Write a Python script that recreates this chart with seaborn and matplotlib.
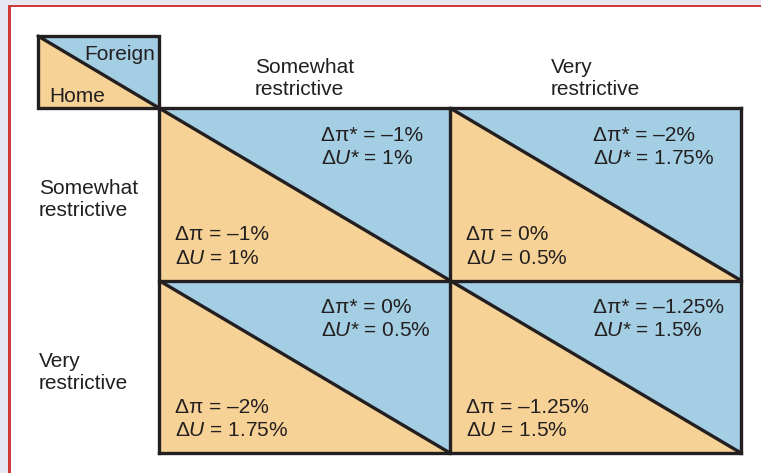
import numpy as np
import pandas as pd
import seaborn as sns
import matplotlib.pyplot as plt
from matplotlib.patches import Rectangle

# policy choices (rows = Home, columns = Foreign)
row_labels = ["Somewhat\nrestrictive", "Very\nrestrictive"]
col_labels = ["Somewhat\nrestrictive", "Very\nrestrictive"]

# outcomes for Home (lower-left triangle) and Foreign (upper-right triangle)
d_pi_home = [[-1, 0], [-2, -1.25]]
d_u_home = [[1, 0.5], [1.75, 1.5]]
d_pi_foreign = [[-1, -2], [0, -1.25]]
d_u_foreign = [[1, 1.75], [0.5, 1.5]]

BLUE = "#a3cee3"
ORANGE = "#f6d296"
INK = "#231f20"

sns.set_theme(style="white")
plt.rcParams["font.family"] = ["Liberation Sans", "DejaVu Sans"]
plt.rcParams["mathtext.fontset"] = "custom"
plt.rcParams["mathtext.rm"] = "Liberation Sans"
plt.rcParams["mathtext.it"] = "Liberation Sans:italic"

W, H = 761, 473
fig = plt.figure(figsize=(W / 100, H / 100), dpi=100)
fig.patch.set_facecolor("white")

# page frame: lavender margin and red rule
def px_rect(x0, y0, w, h, color):
    fig.patches.append(Rectangle((x0 / W, 1 - (y0 + h) / H), w / W, h / H,
                                 transform=fig.transFigure, color=color, lw=0, zorder=0))

px_rect(0, 0, W, 5, "#e8e8f2")
px_rect(0, 0, 8, H, "#e8e8f2")
px_rect(8, 5, W - 8, 2.5, "#cf3b3b")
px_rect(8, 5, 2.5, H - 5, "#cf3b3b")

# axes over whole figure; one data unit = one payoff cell
ax = fig.add_axes([0, 0, 1, 1])
ax.patch.set_alpha(0)

# base fill of the matrix (Home colour) via heatmap
base = pd.DataFrame(np.zeros((2, 2)), index=row_labels, columns=col_labels)
sns.heatmap(base, ax=ax, cmap=[ORANGE], cbar=False, linewidths=0)

cell_w, cell_h = 291, 172.5
x0_px, y0_px = 159, 108
ax.set_xlim(-x0_px / cell_w, (W - x0_px) / cell_w)
ax.set_ylim((H - y0_px) / cell_h, -y0_px / cell_h)
ax.set_axis_off()

lw = 2.4
fs = 15
upper_x = [162 / cell_w, 143 / cell_w]

def fmt(v):
    s = f"{abs(v):g}%"
    return ("\u2013" + s) if v < 0 else s

for i in range(2):
    for j in range(2):
        # Foreign triangle (upper right)
        ax.fill([j, j + 1, j + 1], [i, i, i + 1], color=BLUE, lw=0, zorder=2)
        ax.plot([j, j + 1], [i, i + 1], color=INK, lw=lw, zorder=4,
                solid_capstyle="butt")
        ax.text(j + upper_x[j], i + 0.157, f"\u0394\u03c0* = {fmt(d_pi_foreign[i][j])}",
                fontsize=fs, color=INK, va="center", ha="left", zorder=5)
        ax.text(j + upper_x[j], i + 0.29, f"\u0394$U$* = {fmt(d_u_foreign[i][j])}",
                fontsize=fs, color=INK, va="center", ha="left", zorder=5)
        ax.text(j + 0.055, i + 0.736, f"\u0394\u03c0 = {fmt(d_pi_home[i][j])}",
                fontsize=fs, color=INK, va="center", ha="left", zorder=5)
        ax.text(j + 0.055, i + 0.87, f"\u0394$U$ = {fmt(d_u_home[i][j])}",
                fontsize=fs, color=INK, va="center", ha="left", zorder=5)

# grid lines
for k in range(3):
    ax.plot([k, k], [0, 2], color=INK, lw=lw, zorder=4, solid_capstyle="projecting")
    ax.plot([0, 2], [k, k], color=INK, lw=lw, zorder=4, solid_capstyle="projecting")

# key box (Home / Foreign)
kx, ky = -121 / cell_w, -72 / cell_h
ax.fill([kx, kx, 0], [ky, 0, 0], color=ORANGE, lw=0, zorder=2, clip_on=False)
ax.fill([kx, 0, 0], [ky, ky, 0], color=BLUE, lw=0, zorder=2, clip_on=False)
ax.plot([kx, 0, 0, kx, kx], [ky, ky, 0, 0, ky], color=INK, lw=lw, zorder=4,
        solid_joinstyle="miter")
ax.plot([kx, 0], [ky, 0], color=INK, lw=lw, zorder=4)
ax.text(-4 / cell_w, ky + 19 / cell_h, "Foreign", fontsize=fs, color=INK,
        ha="right", va="center", zorder=5)
ax.text(kx + 11 / cell_w, -11 / cell_h, "Home", fontsize=fs, color=INK,
        ha="left", va="center", zorder=5)

# column headers (Foreign policy)
for j, lab in enumerate(col_labels):
    ax.text(j + 0.5, -29.5 / cell_h, lab, fontsize=fs, color=INK, ha="center",
            va="center", multialignment="left", linespacing=1.22)

# row headers (Home policy)
for i, lab in enumerate(row_labels):
    ax.text(-120 / cell_w, i + 0.5 + 5.5 / cell_h, lab, fontsize=fs, color=INK,
            ha="left", va="center", multialignment="left", linespacing=1.22)

fig.savefig("out.png", dpi=100)
